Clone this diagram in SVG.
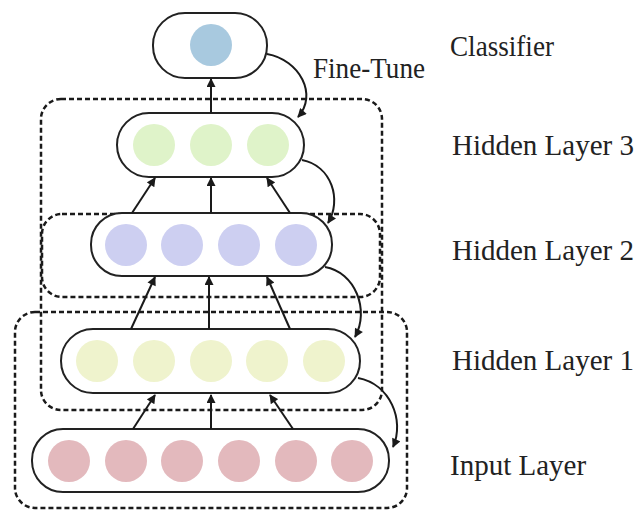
<svg xmlns="http://www.w3.org/2000/svg" width="638" height="511" viewBox="0 0 638 511">
<defs>
<marker id="ah" viewBox="0 0 10 10" refX="9" refY="5" markerWidth="10" markerHeight="9" orient="auto-start-reverse" markerUnits="userSpaceOnUse">
<path d="M0,0 L10,5 L0,10 z" fill="#1a1a1a"/>
</marker>
<style>
.box{fill:#fff;stroke:#222;stroke-width:2}
.dash{fill:none;stroke:#1a1a1a;stroke-width:2.5;stroke-dasharray:5 3}
.con{fill:none;stroke:#1a1a1a;stroke-width:2;marker-end:url(#ah)}
.lbl{font-family:"Liberation Serif","Times New Roman",serif;font-size:29px;fill:#222}
.c0{fill:#a8c9df}.c3{fill:#dff3c9}.c2{fill:#cdcff1}.c1{fill:#eff3cd}.c4{fill:#e3b9bd}
</style>
</defs>
<rect width="638" height="511" fill="#fff"/>
<g id="groups">
<rect class="dash" x="41" y="99" width="341" height="311" rx="20"/>
<rect class="dash" x="42" y="214" width="338" height="83" rx="20"/>
<rect class="dash" x="15" y="312" width="392" height="196" rx="20"/>
</g>
<g id="classifier">
<rect class="box" x="153" y="13" width="114" height="65" rx="32"/>
<circle class="c0" cx="211" cy="45" r="21"/>
</g>
<g id="hidden3">
<rect class="box" x="117" y="113" width="187" height="64" rx="32"/>
<circle class="c3" cx="154" cy="145" r="21"/>
<circle class="c3" cx="211" cy="145" r="21"/>
<circle class="c3" cx="268" cy="145" r="21"/>
</g>
<g id="hidden2">
<rect class="box" x="91" y="213" width="241" height="63" rx="31"/>
<circle class="c2" cx="126" cy="245" r="21"/>
<circle class="c2" cx="182" cy="245" r="21"/>
<circle class="c2" cx="239" cy="245" r="21"/>
<circle class="c2" cx="296" cy="245" r="21"/>
</g>
<g id="hidden1">
<rect class="box" x="61" y="329" width="299" height="64" rx="32"/>
<circle class="c1" cx="97" cy="361" r="21"/>
<circle class="c1" cx="154" cy="361" r="21"/>
<circle class="c1" cx="211" cy="361" r="21"/>
<circle class="c1" cx="267" cy="361" r="21"/>
<circle class="c1" cx="324" cy="361" r="21"/>
</g>
<g id="input">
<rect class="box" x="32" y="429" width="357" height="63" rx="31"/>
<circle class="c4" cx="69" cy="461" r="21"/>
<circle class="c4" cx="126" cy="461" r="21"/>
<circle class="c4" cx="182" cy="461" r="21"/>
<circle class="c4" cx="239" cy="461" r="21"/>
<circle class="c4" cx="296" cy="461" r="21"/>
<circle class="c4" cx="352" cy="461" r="21"/>
</g>
<g id="connectors">
<path class="con" d="M211,113 L211,79"/>
<path class="con" d="M132,213 L155,178"/>
<path class="con" d="M211,213 L211,178"/>
<path class="con" d="M290,213 L267,178"/>
<path class="con" d="M131,329 L155,277"/>
<path class="con" d="M209,329 L209,277"/>
<path class="con" d="M290,329 L267,277"/>
<path class="con" d="M133,429 L155,395"/>
<path class="con" d="M211,429 L211,395"/>
<path class="con" d="M293,429 L270,395"/>
<path class="con" d="M267,54 C300,60 318,95 298,117"/>
<path class="con" d="M302,160 C332,166 342,200 328,223"/>
<path class="con" d="M325,267 C355,272 370,310 355,337"/>
<path class="con" d="M358,378 C390,384 405,420 393,447"/>
</g>
<g id="labels">
<text class="lbl" x="313" y="78" textLength="112" lengthAdjust="spacingAndGlyphs">Fine-Tune</text>
<text class="lbl" x="450" y="56" textLength="104" lengthAdjust="spacingAndGlyphs">Classifier</text>
<text class="lbl" x="452" y="155">Hidden Layer 3</text>
<text class="lbl" x="452" y="260">Hidden Layer 2</text>
<text class="lbl" x="452" y="370">Hidden Layer 1</text>
<text class="lbl" x="450" y="475">Input Layer</text>
</g>
</svg>
